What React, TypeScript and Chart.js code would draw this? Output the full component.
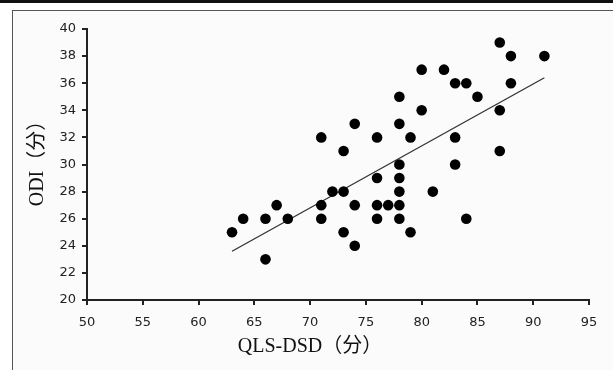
import React, { useEffect, useRef } from "react";
import { Chart, registerables } from "chart.js";

Chart.register(...registerables);

// ---- data ----
const qlsDsd = [63, 64, 66, 66, 67, 68, 71, 71, 71, 72, 73, 73, 73, 74, 74, 74, 76, 76, 76, 76, 77, 78, 78, 78, 78, 78, 78, 78, 79, 79, 80, 80, 81, 82, 83, 83, 83, 84, 84, 85, 87, 87, 87, 88, 88, 91];
const odi = [25, 26, 26, 23, 27, 26, 32, 27, 26, 28, 28, 31, 25, 33, 27, 24, 32, 29, 27, 26, 27, 35, 33, 30, 29, 28, 27, 26, 32, 25, 37, 34, 28, 37, 36, 32, 30, 36, 26, 35, 39, 34, 31, 38, 36, 38];
const trendX = [63, 91];
const trendY = [23.6, 36.4];
const xTitle = "QLS-DSD（分）";
const yTitle = "ODI（分）";
const xMin = 50, xMax = 95, xStep = 5;
const yMin = 20, yMax = 40, yStep = 2;

const W = 613, H = 370;

const titlePlugin = {
  id: "axisTitlesCustom",
  afterDraw(chart: any) {
    const ctx = chart.ctx;
    ctx.save();
    ctx.fillStyle = "#111";
    ctx.font = '20px "Liberation Serif", "Noto Sans CJK SC", serif';
    ctx.textAlign = "center";
    ctx.textBaseline = "middle";
    ctx.fillText(xTitle, 310, 347);
    ctx.translate(38, 158.5);
    ctx.rotate(-Math.PI / 2);
    ctx.fillText(yTitle, 0, 0);
    ctx.restore();
  },
};

export default function App() {
  const ref = useRef<HTMLCanvasElement | null>(null);
  useEffect(() => {
    if (!ref.current) return;
    const points = qlsDsd.map((x, i) => ({ x, y: odi[i] }));
    const trend = trendX.map((x, i) => ({ x, y: trendY[i] }));
    const tickFont = { family: '"DejaVu Sans", sans-serif', size: 13 };
    const chart = new Chart(ref.current, {
      type: "scatter",
      data: {
        datasets: [
          {
            label: "trend",
            data: trend,
            showLine: true,
            borderColor: "#333",
            borderWidth: 1.3,
            pointRadius: 0,
            pointHoverRadius: 0,
            order: 2,
          } as any,
          {
            label: "points",
            data: points,
            backgroundColor: "#000",
            borderColor: "#000",
            borderWidth: 0,
            pointRadius: 5.3,
            order: 1,
          },
        ],
      },
      options: {
        responsive: false,
        animation: false,
        devicePixelRatio: 1,
        layout: { padding: { left: 0, top: 29, right: 24, bottom: 0 } },
        plugins: { legend: { display: false }, tooltip: { enabled: false } },
        scales: {
          x: {
            type: "linear",
            min: xMin,
            max: xMax,
            ticks: { stepSize: xStep, color: "#222", font: tickFont, padding: 10, maxRotation: 0 },
            grid: { display: true, drawOnChartArea: false, drawTicks: true, tickLength: 5, color: "#222", lineWidth: 2 },
            border: { display: true, color: "#222", width: 2 },
            afterFit: (s: any) => { s.height = 70; },
          },
          y: {
            type: "linear",
            min: yMin,
            max: yMax,
            ticks: { stepSize: yStep, color: "#222", font: tickFont, padding: 6 },
            grid: { display: true, drawOnChartArea: false, drawTicks: true, tickLength: 5, color: "#222", lineWidth: 2 },
            border: { display: true, color: "#222", width: 2 },
            afterFit: (s: any) => { s.width = 87; },
          },
        },
      },
      plugins: [titlePlugin],
    });
    return () => chart.destroy();
  }, []);

  return (
    <div style={{ position: "fixed", left: 0, top: 0, width: W, height: H, background: "#fff", overflow: "hidden" }}>
      <div style={{ position: "absolute", left: 0, top: 0, width: W, height: 3, background: "#111" }} />
      <div style={{ position: "absolute", left: 12, top: 10, width: W, height: H, border: "1px solid #555", background: "#fbfbfb" }} />
      <canvas ref={ref} width={W} height={H} style={{ position: "absolute", left: 0, top: 0, width: W, height: H }} />
    </div>
  );
}
